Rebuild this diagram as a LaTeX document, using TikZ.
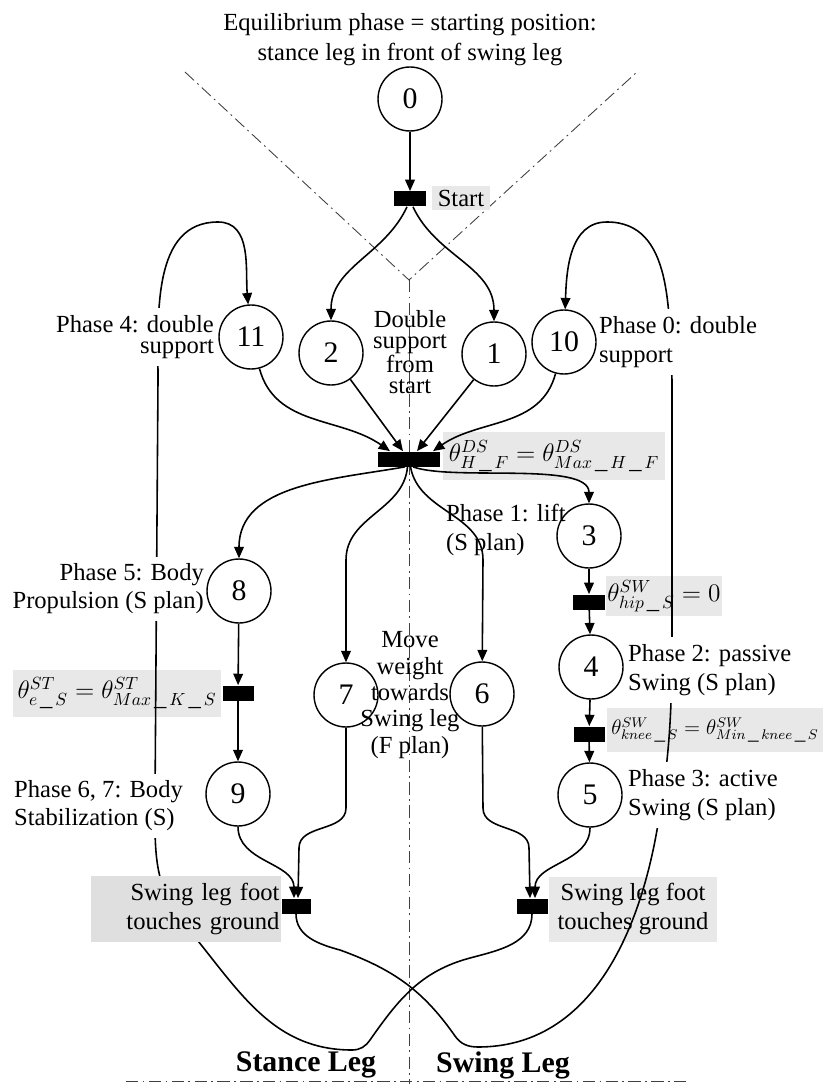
\documentclass[tikz,border=0pt]{standalone}
\usepackage{fontspec}
\setmainfont{Liberation Serif}
\usepackage{tikz}
\usetikzlibrary{arrows.meta}
\usetikzlibrary{calc,positioning}
\tikzset{
    placecircle/.style={
        circle, draw, line width=0.8pt, fill=white,
        minimum size=1.28cm, inner sep=0pt,
        font=\fontsize{17}{19}\selectfont
    },
    blackbar/.style={
        rectangle, fill=black, minimum height=0.3cm, inner sep=0pt
    },
    % grey boxes for the firing conditions
    graybox/.style={
        fill=gray!18, inner sep=1pt, font=\fontsize{14}{16}\selectfont
    },
    phaselabel/.style={
        fill=white, inner xsep=1pt, inner ysep=4pt,
        font=\fontsize{14}{16}\selectfont
    },
    plainlabel/.style={
        inner sep=1pt, align=center, font=\fontsize{14}{12}\selectfont
    },
    flowarrow/.style={
        line width=0.9pt, black, ->,
        >={Triangle[length=6.5pt, width=5.5pt]}
    },
    dashdotline/.style={
        line width=0.5pt, black!75,
        dash pattern=on 7pt off 2.5pt on 1pt off 2.5pt
    }
}
\begin{document}
\begin{tikzpicture}[x=0.02cm, y=-0.02cm]
    \useasboundingbox (0,0) rectangle (823,1084);

    % axes
    \draw[dashdotline] (185,72) -- (409,280) -- (637,72);
    \draw[dashdotline] (409,280) -- (409,1084);
    \draw[dashdotline] (126,1081) -- (690,1081);

    \node[align=center, font=\fontsize{14}{17}\selectfont] (title) at (410,40)
        {Equilibrium phase = starting position:\\stance leg in front of swing leg};

    % places
    \node[placecircle] (p0) at (410,99) {0};
    \node[placecircle] (p11) at (251,337) {11};
    \node[placecircle] (p2) at (331,353) {2};
    \node[placecircle] (p1) at (494,354) {1};
    \node[placecircle] (p10) at (564,342) {10};
    \node[placecircle] (p3) at (589,536) {3};
    \node[placecircle] (p8) at (239,591) {8};
    \node[placecircle] (p7) at (346,695) {7};
    \node[placecircle] (p6) at (482,694) {6};
    \node[placecircle] (p4) at (591,667) {4};
    \node[placecircle] (p9) at (238,794) {9};
    \node[placecircle] (p5) at (590,795) {5};

    % transitions
    \node[blackbar, minimum width=0.64cm] (tstart) at (410,199) {};
    \node[blackbar, minimum width=1.24cm] (tds) at (409,459) {};
    \node[blackbar, minimum width=0.64cm] (t34) at (589,602) {};
    \node[blackbar, minimum width=0.62cm] (t45) at (589,734) {};
    \node[blackbar, minimum width=0.62cm] (t89) at (238,693) {};
    \node[blackbar, minimum width=0.58cm] (tst) at (296,906) {};
    \node[blackbar, minimum width=0.62cm] (tsw) at (532,906) {};

    % firing conditions
    \node[graybox, minimum width=1.16cm, minimum height=0.5cm] (cstart) at (461,198) {Start};
    \node[graybox, minimum width=4.44cm, minimum height=0.96cm] (cds) at (554,456)
        {$\theta^{DS}_{H\,\_\,F}=\theta^{DS}_{Max\,\_\,H\,\_\,F}$};
    \node[graybox, minimum width=2.24cm, minimum height=0.8cm] (c34) at (664,596)
        {$\theta^{SW}_{hip\,\_\,S}=0$};
    \node[graybox, minimum width=4.32cm, minimum height=0.88cm, font=\fontsize{12}{14}\selectfont] (c45)
        at (715,730) {$\theta^{SW}_{knee\,\_\,S}=\theta^{SW}_{Min\,\_\,knee\,\_\,S}$};
    \node[graybox, minimum width=4.18cm, minimum height=0.94cm] (c89) at (117,693)
        {$\theta^{ST}_{e\,\_\,S}=\theta^{ST}_{Max\,\_\,K\,\_\,S}$};
    \node[graybox, minimum width=3.36cm, minimum height=1.3cm, align=center] (csw) at (633,909)
        {Swing leg foot\\touches ground};

    \draw[flowarrow] (p0) -- (tstart);
    \draw[flowarrow] ([xshift=-0.06cm]tstart.south) to[out=-115,in=90] (p2);
    \draw[flowarrow] ([xshift=0.06cm]tstart.south) to[out=-65,in=90] (p1);

    \draw[flowarrow] (p11) to[out=-75,in=145] ([xshift=-0.38cm]tds.north);
    \draw[flowarrow] (p2) -- ([xshift=-0.12cm]tds.north);
    \draw[flowarrow] (p1) -- ([xshift=0.16cm]tds.north);
    \draw[flowarrow] (p10) to[out=-105,in=35] ([xshift=0.48cm]tds.north);

    \draw[flowarrow] ([xshift=-0.08cm]tds.south) to[out=-170,in=90] (p8);
    \draw[flowarrow] ([xshift=-0.03cm]tds.south) to[out=-95,in=90] (346,560) -- (p7);
    \draw[flowarrow] ([xshift=0.03cm]tds.south) to[out=-80,in=90] (483,560) -- (p6);
    \draw[flowarrow] ([xshift=0.08cm]tds.south) to[out=-20,in=90,looseness=0.6] (p3);

    \draw[flowarrow] (p3) -- (t34);
    \draw[flowarrow] (t34) -- (p4);
    \draw[flowarrow] (p4) -- (t45);
    \draw[flowarrow] (t45) -- (p5);
    \draw[flowarrow] (p8) -- (t89);
    \draw[flowarrow] (t89) -- (p9);

    \draw[flowarrow] (p9) to[out=-90,in=90] ([xshift=-0.04cm]tst.north);
    \draw[flowarrow] (p7) -- (346,808) to[out=-90,in=90] (299,848) -- ([xshift=0.04cm]tst.north);
    \draw[flowarrow] (p6) -- (483,808) to[out=-90,in=90] (529,848) -- ([xshift=-0.04cm]tsw.north);
    \draw[flowarrow] (p5) to[out=-90,in=90] ([xshift=0.06cm]tsw.north);

    % the two legs
    \draw[flowarrow] (tsw.south) to[out=-90,in=15] (470,958) to[out=195,in=55] (370,1040)
        to[out=235,in=0] (352,1050) to[out=180,in=-50] (185,925) to[out=130,in=-90] (155,800)
        -- (158,380) to[out=90,in=180] (218,222) to[out=0,in=95] (p11);
    \draw[flowarrow] (tst.south) to[out=-90,in=165] (340,950) to[out=-20,in=125] (455,1036)
        to[out=-55,in=180] (478,1047) to[out=0,in=-100] (657,830) to[out=80,in=-90] (672,620)
        -- (672,380) to[out=93,in=0] (607,222) to[out=180,in=88] (p10);

    \node[graybox, fill=gray!25, text width=3.74cm, align=right, minimum height=1.32cm] (cst)
        at (186,909) {Swing leg foot\\touches ground};

    % phase texts
    \node[phaselabel, anchor=east, align=right, font=\fontsize{14}{12}\selectfont] (l11)
        at (216,337) {Phase 4: double\\support};
    \node[phaselabel, anchor=west, align=left, font=\fontsize{14}{16.5}\selectfont] (l10)
        at (597,342) {Phase 0: double\\support};
    \node[plainlabel] (lds) at (410,352) {Double\\support\\from\\start};
    \node[plainlabel, anchor=west, align=left, font=\fontsize{14}{17}\selectfont] (l3)
        at (444,530) {Phase 1: lift\\(S plan)};
    \node[phaselabel, anchor=east, align=right] (l8) at (206,589) {Phase 5: Body\\Propulsion (S plan)};
    \node[plainlabel, font=\fontsize{14}{15}\selectfont] (l67) at (410,695)
        {Move\\weight\\towards\\Swing leg\\(F plan)};
    \node[phaselabel, anchor=west, align=left, font=\fontsize{14}{16.5}\selectfont] (l4)
        at (626,670) {Phase 2: passive\\Swing (S plan)};
    \node[phaselabel, anchor=west, align=left, font=\fontsize{14}{16.5}\selectfont] (l5)
        at (626,795) {Phase 3: active\\Swing (S plan)};
    \node[phaselabel, anchor=west, align=left] (l9) at (12,806) {Phase 6, 7: Body\\Stabilization (S)};

    \node[font=\fontsize{17}{20}\selectfont\bfseries] (stance) at (306,1065) {Stance Leg};
    \node[font=\fontsize{17}{20}\selectfont\bfseries] (swing) at (503,1065) {Swing Leg};
\end{tikzpicture}
\end{document}
